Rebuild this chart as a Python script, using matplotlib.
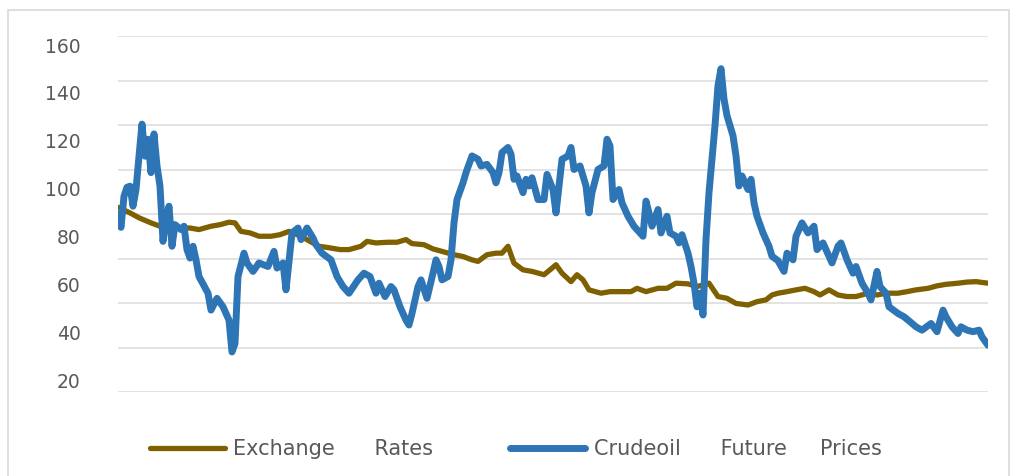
import matplotlib
matplotlib.use("Agg")
import matplotlib.pyplot as plt
from matplotlib.patches import Rectangle

# ---- data (observation index, value) ----
oil_t = [0, 1, 2, 3, 4, 5, 6, 7, 8, 9, 10, 11, 12, 13, 14, 15, 16, 17, 18, 19, 21, 22, 23, 24, 25, 26, 27,
         30, 31, 33, 35, 37, 38, 39, 40, 42, 43, 45, 47, 50, 52, 53, 55, 56, 58, 60, 61, 63, 65, 66, 68, 71,
         73, 75, 77, 80, 82, 84, 86, 87, 89, 91, 92, 94, 96, 97, 98, 100, 101, 103, 105, 106, 107, 108, 110,
         111, 112, 113, 115, 116, 118, 120, 121, 123, 125, 126, 127, 128, 130, 131, 132, 133, 135, 136, 137,
         138, 140, 142, 143, 145, 146, 148, 150, 151, 152, 154, 156, 157, 158, 160, 162, 163, 164, 165, 167,
         168, 170, 172, 173, 175, 176, 177, 178, 180, 181, 183, 184, 186, 187, 188, 190, 191, 192, 193, 194,
         195, 196, 197, 198, 199, 200, 201, 202, 203, 205, 206, 207, 208, 210, 211, 212, 213, 215, 217, 218,
         220, 222, 223, 225, 226, 228, 230, 232, 233, 235, 237, 238, 240, 241, 243, 245, 246, 248, 250, 251,
         253, 254, 256, 257, 260, 262, 264, 266, 268, 271, 273, 275, 276, 278, 280, 281, 283, 285, 287, 288, 290]
oil_v = [80, 74, 88, 92, 92.5, 83.5, 91, 106, 120.4, 106, 113.6, 98.6, 116, 101.6, 92.5, 67.7, 77.5, 83.5,
         65.5, 75.2, 73, 74.5, 64, 60.2, 65.5, 59.4, 51.9,
         44.4, 36.8, 42.1, 38.3, 32.3, 18, 21.8, 51.9, 62.4, 58, 54.2, 58, 56.4, 63.2, 55.7, 58, 45.9, 71.5,
         73.7, 68.5, 73.7, 69.2, 66.2, 62.4, 59.4,
         51.9, 47.4, 44.4, 50.4, 53.4, 51.9, 44.4, 48.9, 42.9, 47.4, 45.9, 38.3, 32.3, 30.1, 35.3, 47.4, 50.4,
         42.1, 53.4, 59.4, 56.4, 50.4, 51.9,
         59.4, 76, 86.5, 94, 98.6, 106.1, 104.6, 101.6, 102.3, 98.6, 94, 98.6, 107.6, 109.9, 106.9, 95.6,
         97.1, 89.6, 95.6, 92.6,
         96.3, 86.5, 86.5, 97.8, 91, 80.5, 104.6, 106.1, 109.9, 100, 101.6, 92.6, 80.5, 89.6, 100, 101.6,
         113.6, 110.6, 86.5, 91,
         85, 79, 74.5, 73, 70, 85.8, 80.5, 74.5, 82, 71.5, 79, 71.5, 70, 67, 70.7, 62.4, 56.4, 48.9, 38.3,
         44.4,
         34.6, 68.5, 89.6, 104.6, 119.7, 137.7, 145.3, 131.7, 124.2, 115.2, 106.1, 92.6, 97.1, 91, 95.6, 85,
         79, 71.5, 65.5, 61,
         59, 54.2, 62.4, 59.4, 70, 76, 71.5, 74.5, 64, 67, 61, 58, 65.5, 67, 59.4, 53.4, 56.4, 48.9, 44.4,
         41.4,
         54.2, 47.4, 44.4, 38.3, 35.3, 33.8, 31.6, 29.3, 27.8, 30.8, 27.1, 36.8, 33.8, 29.3, 26.3, 29.3, 27.8,
         27.1, 27.8, 24.8, 21]

fx_t = [0, 4, 7, 11, 14, 17, 21, 24, 27, 31, 34, 37, 39, 41, 44, 47, 51, 54, 57, 61, 64, 67, 71,
        74, 77, 81, 83, 86, 90, 93, 96, 98, 102, 105, 108, 112, 115, 118, 120, 123, 126, 128, 130, 132,
        135, 138, 142, 144,
        146, 148, 151, 153, 155, 157, 161, 164, 167, 171, 173, 176, 180, 183, 186, 190, 193, 195, 197,
        200, 203, 206, 210, 213, 216, 218,
        220, 223, 226, 229, 232, 234, 237, 240, 243, 246, 250, 253, 256, 260, 263, 266, 270, 273, 276,
        280, 283, 286, 290]
fx_v = [83, 80.5, 78.3, 76, 74.5, 73.7, 73.7, 73.7, 73, 74.5, 75.2, 76.3, 76, 72.2, 71.5, 70, 70, 70.7,
        72.2, 70, 67.7, 65.5, 64.7,
        64, 64, 65.5, 67.7, 67, 67.3, 67.3, 68.5, 66.7, 66.2, 64.3, 63.2, 61.7, 60.9, 59.4, 58.7, 61.7,
        62.4, 62.4, 65.5, 57.9, 54.9, 54.2, 52.7, 54.9,
        57.2, 53.4, 49.6, 52.7, 50.4, 45.9, 44.4, 45.1, 45.1, 45.1, 46.6, 45.1, 46.6, 46.6, 48.9, 48.6,
        47.4, 48.1, 48.9, 42.9, 42.1, 39.8, 39.1, 40.6, 41.4, 43.6,
        44.4, 45.1, 45.9, 46.6, 45.1, 43.6, 45.9, 43.6, 42.9, 42.9, 44.4, 43.6, 44.4, 44.4, 45.1, 45.9,
        46.6, 47.7, 48.4, 48.9, 49.4, 49.6, 48.9]

series_names = ["Exchange      Rates", "Crudeoil      Future     Prices"]
y_ticks = [20, 40, 60, 80, 100, 120, 140, 160]

# ---- figure ----
W, H = 1017, 476
fig = plt.figure(figsize=(W / 100, H / 100), dpi=100)
fig.patches.append(Rectangle((8 / W, -0.1), 1001 / W, 1 - 10 / H + 0.1, transform=fig.transFigure,
                             fill=False, edgecolor="#d9d9d9", linewidth=1.2))

rect = [118 / W, 1 - 392 / H, 870 / W, 356 / H]
ax = fig.add_axes(rect)
ax.set_xlim(0, 290)
ax.set_ylim(0, 160)
for s in ax.spines.values():
    s.set_visible(False)
ax.set_xticks([])
ax.set_yticks(range(0, 161, 20))
ax.tick_params(axis="y", length=0, labelleft=False)
ax.grid(axis="y", color="#e0e0e0", linewidth=1.3)
ax.set_axisbelow(True)

l1, = ax.plot(fx_t, fx_v, color="#7f6000", linewidth=3.8, solid_joinstyle="round",
              solid_capstyle="round", label=series_names[0])
l2, = ax.plot(oil_t, oil_v, color="#2e75b6", linewidth=5.0, solid_joinstyle="round",
              solid_capstyle="round", label=series_names[1])

# tick-label axis (labels sit slightly offset from the gridlines, as in the reference)
axl = fig.add_axes(rect, frameon=False)
axl.set_ylim(15.0, 163.8)
axl.set_xticks([])
axl.set_yticks(y_ticks)
axl.set_yticklabels([str(v) for v in y_ticks])
axl.tick_params(axis="y", length=0, pad=27, labelsize=13.5, labelcolor="#595959")
axl.patch.set_visible(False)

fig.legend(handles=[l1, l2], labels=series_names, loc="lower left",
           bbox_to_anchor=(150 / W, 17 / H), ncol=2, frameon=False, fontsize=15,
           labelcolor="#595959", handlelength=3.6, handletextpad=0.4, columnspacing=3.7,
           borderpad=0, borderaxespad=0)

fig.savefig("out.png", dpi=100)
